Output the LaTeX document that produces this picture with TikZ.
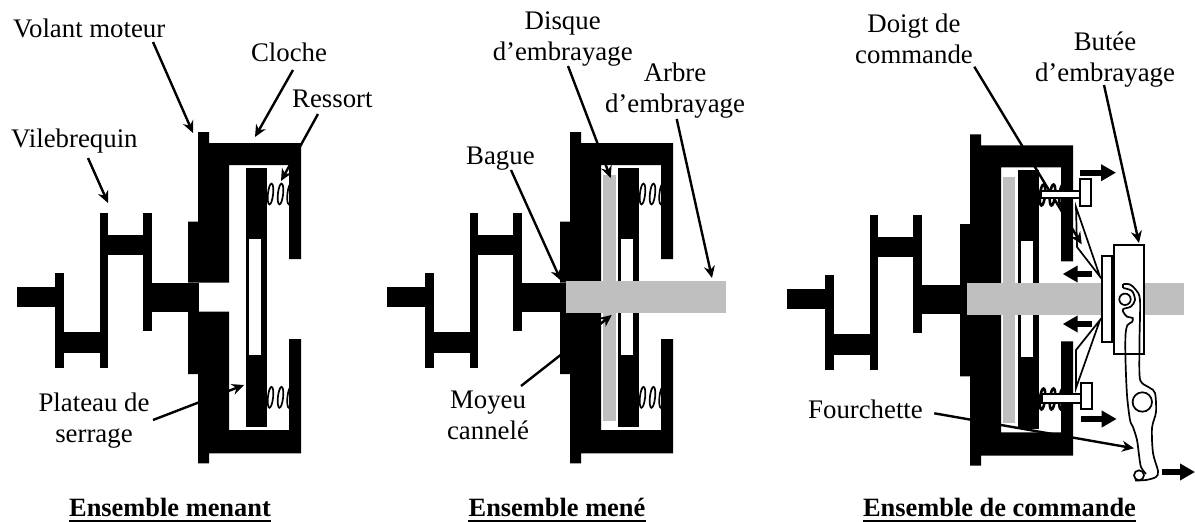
\documentclass[tikz,border=0pt]{standalone}
\usepackage{fontspec}
\setmainfont{Liberation Serif}
\usetikzlibrary{positioning,arrows.meta}

\begin{document}
\begin{tikzpicture}[
    x=1pt, y=-1pt,
    lbl/.style={font=\fontsize{26.8}{30.5}\selectfont, inner sep=0pt, align=center, anchor=base},
    titre/.style={font=\fontsize{26.4}{30.5}\selectfont\bfseries, inner sep=0pt, anchor=base},
    soul/.style={line width=2pt},
    leader/.style={line width=2.4pt, -{Stealth[length=12pt,width=11pt]}},
    pousse/.style={line width=5.7pt, -{Triangle[length=15pt,width=16pt]}},
    piece/.style={fill=white, draw=black, line width=1.7pt},
    coil/.style={fill=white, draw=black},
    crank/.pic={
        \fill (17,287.3) rectangle (55,307.3);
        \fill (55,272.7) rectangle (64,368.3);
        \fill (64,332) rectangle (100,352.7);
        \fill (100,212.7) rectangle (108,368.3);
        \fill (108,235) rectangle (143,255);
        \fill (143,212.7) rectangle (152,330.7);
        \fill (152,282.7) rectangle (199,311.7);
    },
    ressort/.pic={
        \path[coil] (270.5,0) ellipse[x radius=2.6, y radius=10.5, rotate=-6];
        \path[coil] (280.5,0) ellipse[x radius=2.6, y radius=10.5, rotate=-6];
        \path[coil] (290,0) ellipse[x radius=2.6, y radius=10.5, rotate=-6];
    },
    cloche/.pic={
        \fill (198,132) -- (209,132) -- (209,143) -- (301,143) -- (301,259) -- (289,259)
            -- (289,165) -- (229,165) -- (229,282.7) -- (188,282.7) -- (188,221.7) -- (198,221.7) -- cycle;
        \fill (188,311.7) -- (229,311.7) -- (229,430) -- (289,430) -- (289,339) -- (301,339)
            -- (301,453.3) -- (209,453.3) -- (209,463.3) -- (198,463.3) -- (198,374) -- (188,374) -- cycle;
        % plateau de serrage and its window
        \fill (245.7,168) rectangle (266.7,426.7);
        \fill[white] (249.3,238.7) rectangle (261,355);
    }
]
\useasboundingbox (0,0) rectangle (1195,522);

% Ensemble menant
\pic[line width=1.7pt] at (0,194) {ressort};
\pic[line width=1.7pt] at (0,397.3) {ressort};
\pic at (0,0) {cloche};
\pic at (0,0) {crank};

\node[lbl, anchor=base west] (volant) at (13,37) {Volant moteur};
\node[lbl] (clochelbl) at (289,61) {Cloche};
\node[lbl, anchor=base west] (ressortlbl) at (292,107) {Ressort};
\node[lbl, anchor=base west] (vilebrequin) at (11,147) {Vilebrequin};
\node[lbl] (plateau) at (94,442) {Plateau de\\serrage};
\node[titre] (menant) at (170,516.5) {Ensemble menant};

\coordinate (volantA) at (153,42);   \coordinate (volantB) at (193,133);
\coordinate (clocheA) at (293,70);   \coordinate (clocheB) at (255,137);
\coordinate (ressortA) at (318,114); \coordinate (ressortB) at (281,181);
\coordinate (vileA) at (88,158);     \coordinate (vileB) at (108,203);
\coordinate (plateauA) at (153,420); \coordinate (plateauB) at (244,385);
\draw[leader] (volantA) -- (volantB);
\draw[leader] (clocheA) -- (clocheB);
\draw[leader] (ressortA) -- (ressortB);
\draw[leader] (vileA) -- (vileB);
\draw[leader] (plateauA) -- (plateauB);
\draw[soul] ([yshift=-4pt]menant.base west) -- ([yshift=-4pt]menant.base east);

% Ensemble mene
\pic[line width=1.7pt] at (372,194) {ressort};
\pic[line width=1.7pt] at (372,397.3) {ressort};
\pic at (372,0) {cloche};
\pic at (370,0) {crank};
\fill (560,282.7) rectangle (601,311.7);
\fill[gray!50] (602.7,175) rectangle (615.7,421);
\fill[gray!50] (566,280.7) rectangle (725.7,312.7);

\node[lbl] (disque) at (562.7,60) {Disque\\d’embrayage};
\node[lbl] (arbre) at (675,112) {Arbre\\d’embrayage};
\node[lbl, anchor=base west] (bague) at (466,164) {Bague};
\node[lbl] (moyeu) at (488,439) {Moyeu\\cannelé};
\node[titre] (mene) at (557,516.5) {Ensemble mené};

\coordinate (disqueA) at (568,66);   \coordinate (disqueB) at (610.7,178);
\coordinate (arbreA) at (676.7,119); \coordinate (arbreB) at (712,278);
\coordinate (bagueA) at (511,170);   \coordinate (bagueB) at (561,280.7);
\coordinate (moyeuA) at (521,386);   \coordinate (moyeuB) at (611.7,315);
\draw[leader] (disqueA) -- (disqueB);
\draw[leader] (arbreA) -- (arbreB);
\draw[leader] (bagueA) -- (bagueB);
\draw[leader] (moyeuA) -- (moyeuB);
\draw[soul] ([yshift=-4pt]mene.base west) -- ([yshift=-4pt]mene.base east);

% Ensemble de commande
\pic[line width=2.6pt] at (772,195) {ressort};
\pic[line width=2.6pt] at (772,399) {ressort};
\pic at (772,2.3) {cloche};
\pic at (770,2) {crank};
\fill (960,285) rectangle (1001,314);
\fill[gray!50] (1003.3,176.7) rectangle (1015.3,423);
\fill[gray!50] (967,283) rectangle (1184.3,315);

\node[lbl] (doigt) at (914,63) {Doigt de\\commande};
\node[lbl] (butee) at (1105,81) {Butée\\d’embrayage};
\node[lbl, anchor=base west] (fourchette) at (808,418.5) {Fourchette};
\node[titre] (commande) at (999.5,516.5) {Ensemble de commande};

\coordinate (doigtA) at (974.3,66.7);  \coordinate (doigtB) at (1081.7,244.3);
\coordinate (buteeA) at (1104,85);     \coordinate (buteeB) at (1139,243);
\coordinate (fourchA) at (934.3,413.3); \coordinate (fourchB) at (1134,448.3);
\draw[leader] (doigtA) -- (doigtB);
\draw[leader] (buteeA) -- (buteeB);
\draw[leader] (fourchA) -- (fourchB);
\draw[soul] ([yshift=-4pt]commande.base west) -- ([yshift=-4pt]commande.base east);

% tiges and doigts
\draw[piece] (1041,190.7) rectangle (1080,198.3);
\draw[piece] (1080,179.3) rectangle (1090.7,206);
\draw[piece] (1041.7,394.3) rectangle (1081,402.7);
\draw[piece] (1081,383.3) rectangle (1091.7,409.3);

\draw[line width=1.7pt] (1076,207) -- (1100,276.7) -- (1077,247) -- cycle;
\draw[line width=1.7pt] (1076,388) -- (1100,320) -- (1076,350) -- cycle;

% butee
\draw[piece] (1101.7,255.7) rectangle (1111.7,342.3);
\draw[piece] (1114.3,245) rectangle (1144.3,354);

% fourchette
\draw[line width=1.7pt] plot[smooth, tension=0.5] coordinates {
    (1123.3,284) (1130,284.5) (1136,290) (1140,300) (1139.5,340) (1139.5,375) (1142,383)
    (1150,388) (1155,393) (1156,412) (1152,428) (1153,453) (1158,471) (1156,477) (1146,480) (1135,480.5)};
\draw[line width=1.7pt] plot[smooth, tension=0.5] coordinates {
    (1146,474) (1141,467) (1139,455) (1137,440) (1133,427) (1130,420) (1127,395) (1125.5,360) (1125.5,335)
    (1127.5,325) (1132,322) (1132.7,318) (1127,316.7) (1123.3,312) (1123.3,309) (1131,306.5)
    (1135,300) (1132,291) (1123.3,288)};
\draw[line width=1.7pt] (1123.3,284) -- (1123.3,288);
\draw[piece] (1125,299.3) circle[radius=5.7];
\draw[piece] (1142.3,402) circle[radius=9.7];
\draw[piece] (1139,475.3) circle[radius=5];

% efforts
\coordinate (effortA) at (1080,172.7);  \coordinate (effortB) at (1116,172.7);
\coordinate (effortC) at (1092,274);    \coordinate (effortD) at (1062.7,274);
\coordinate (effortE) at (1092,324);    \coordinate (effortF) at (1062.7,324);
\coordinate (effortG) at (1081,419);    \coordinate (effortH) at (1116.7,419);
\coordinate (effortI) at (1162.3,472);  \coordinate (effortJ) at (1195,472);
\draw[pousse] (effortA) -- (effortB);
\draw[pousse] (effortC) -- (effortD);
\draw[pousse] (effortE) -- (effortF);
\draw[pousse] (effortG) -- (effortH);
\draw[pousse] (effortI) -- (effortJ);

\end{tikzpicture}
\end{document}
